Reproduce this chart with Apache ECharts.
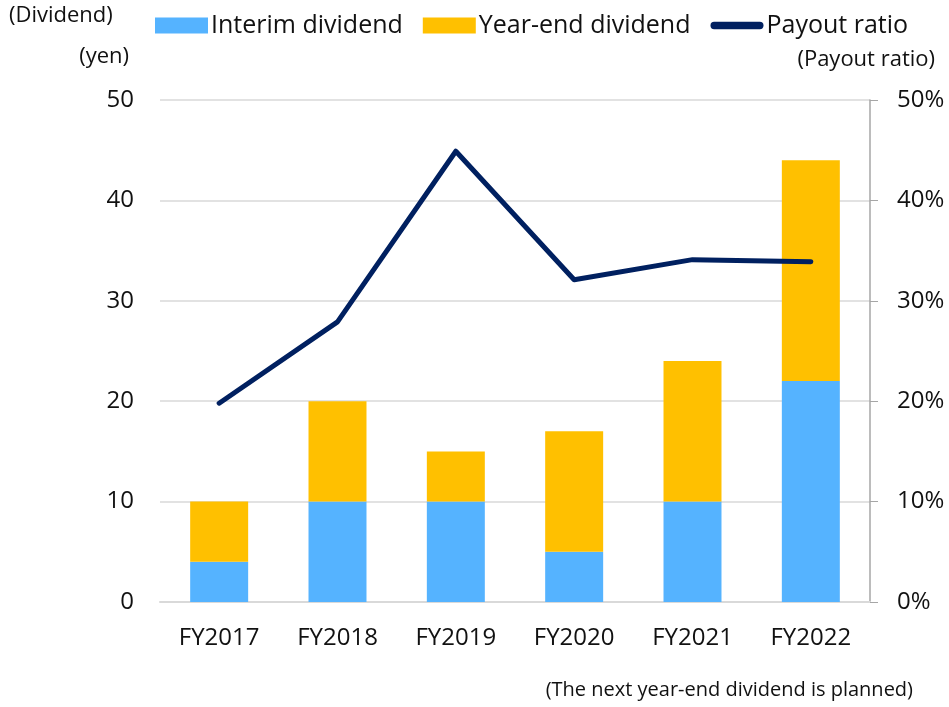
<!DOCTYPE html>
<html>
<head>
<meta charset="utf-8">
<script src="https://cdn.jsdelivr.net/npm/echarts@6/dist/echarts.min.js"></script>
<style>
  html, body { margin: 0; padding: 0; background: #fff; }
  #chart { width: 949px; height: 707px; }
</style>
</head>
<body>
<div id="chart"></div>
<script>
const years = ['FY2017', 'FY2018', 'FY2019', 'FY2020', 'FY2021', 'FY2022']
const interim = [4, 10, 10, 5, 10, 22]
const yearEnd = [6, 10, 5, 12, 14, 22]
const payout = [19.8, 27.9, 44.9, 32.1, 34.1, 33.9]

const font = 'Open Sans'
const chart = echarts.init(document.getElementById('chart'))

// thick line with round ends for the payout legend entry
const lineIcon = 'path://M4,0 L54,0 A4,4 0 0 1 54,8 L4,8 A4,4 0 0 1 4,0 Z'

const option = {
  textStyle: { fontFamily: font },
  legend: {
    top: 8,
    left: 150,
    itemGap: 20,
    itemWidth: 53,
    itemHeight: 16,
    symbolKeepAspect: true,
    textStyle: { fontSize: 25, color: '#111', fontFamily: font, padding: [0, 0, 0, -2] },
    data: [
      { name: 'Interim dividend', icon: 'rect' },
      { name: 'Year-end dividend', icon: 'rect' },
      { name: 'Payout ratio', icon: lineIcon }
    ]
  },
  graphic: [
    { type: 'text', left: 9, top: 5, style: { text: '(Dividend)', font: '22px "' + font + '"', fill: '#111' } },
    { type: 'text', right: 949 - 129, top: 46, style: { text: '(yen)', font: '22px "' + font + '"', fill: '#111' } },
    { type: 'text', right: 14, top: 49, style: { text: '(Payout ratio)', font: '22px "' + font + '"', fill: '#111' } },
    { type: 'text', right: 36, top: 680, style: { text: '(The next year-end dividend is planned)', font: '20px "' + font + '"', fill: '#111' } }
  ],
  grid: { left: 160, right: 79, top: 100, bottom: 105, containLabel: false },
  xAxis: {
    type: 'category',
    data: years,
    axisLine: { lineStyle: { color: '#d9d9d9', width: 2 } },
    axisTick: { show: false },
    axisLabel: { fontSize: 24, color: '#111', margin: 24 }
  },
  yAxis: [
    {
      type: 'value',
      min: 0,
      max: 50,
      interval: 10,
      axisLine: { show: false },
      axisTick: { show: false },
      axisLabel: { fontSize: 24, color: '#111', margin: 26 },
      splitLine: { lineStyle: { color: '#d9d9d9', width: 1.5 } }
    },
    {
      type: 'value',
      min: 0,
      max: 50,
      interval: 10,
      position: 'right',
      axisLine: { show: true, lineStyle: { color: '#a6a6a6', width: 1.5 } },
      axisTick: { show: true, length: 8, lineStyle: { color: '#a6a6a6' } },
      axisLabel: { fontSize: 24, color: '#111', margin: 27, formatter: '{value}%' },
      splitLine: { show: false }
    }
  ],
  series: [
    {
      name: 'Interim dividend',
      type: 'bar',
      stack: 'div',
      barWidth: '49%',
      itemStyle: { color: '#55b3ff' },
      data: interim
    },
    {
      name: 'Year-end dividend',
      type: 'bar',
      stack: 'div',
      barWidth: '49%',
      itemStyle: { color: '#ffc000' },
      data: yearEnd
    },
    {
      name: 'Payout ratio',
      type: 'line',
      yAxisIndex: 1,
      symbol: 'none',
      lineStyle: { color: '#002060', width: 5, cap: 'round', join: 'round' },
      itemStyle: { color: '#002060' },
      data: payout
    }
  ]
}

chart.setOption(option)
</script>
</body>
</html>
